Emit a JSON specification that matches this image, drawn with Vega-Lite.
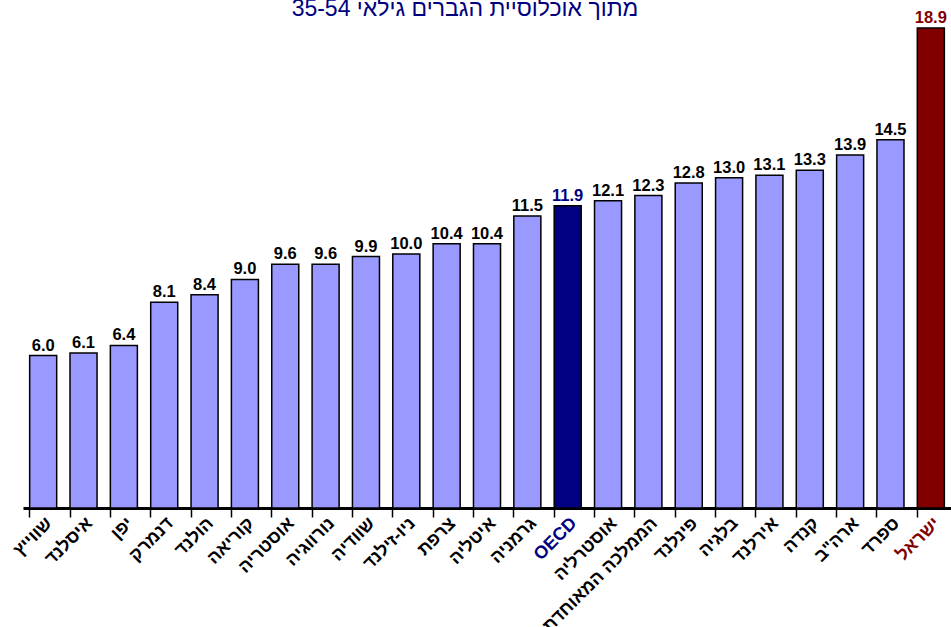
{
  "$schema": "https://vega.github.io/schema/vega-lite/v6.json",
  "width": 928,
  "height": 508,
  "autosize": "none",
  "padding": {"left": 23, "top": 0, "right": 0, "bottom": 119},
  "background": "white",
  "title": {
    "text": "מתוך אוכלוסיית הגברים גילאי 35-54",
    "font": "Liberation Sans",
    "fontSize": 23,
    "fontWeight": "normal",
    "color": "#000080",
    "anchor": "middle",
    "frame": "group",
    "baseline": "alphabetic",
    "offset": 0,
    "dx": -22,
    "dy": 39
  },
  "data": {
    "values": [
      {"country": "שווייץ", "value": 6.0, "kind": "other"},
      {"country": "איסלנד", "value": 6.1, "kind": "other"},
      {"country": "יפן", "value": 6.4, "kind": "other"},
      {"country": "דנמרק", "value": 8.1, "kind": "other"},
      {"country": "הולנד", "value": 8.4, "kind": "other"},
      {"country": "קוריאה", "value": 9.0, "kind": "other"},
      {"country": "אוסטריה", "value": 9.6, "kind": "other"},
      {"country": "נורווגיה", "value": 9.6, "kind": "other"},
      {"country": "שוודיה", "value": 9.9, "kind": "other"},
      {"country": "ניו-זילנד", "value": 10.0, "kind": "other"},
      {"country": "צרפת", "value": 10.4, "kind": "other"},
      {"country": "איטליה", "value": 10.4, "kind": "other"},
      {"country": "גרמניה", "value": 11.5, "kind": "other"},
      {"country": "OECD", "value": 11.9, "kind": "oecd"},
      {"country": "אוסטרליה", "value": 12.1, "kind": "other"},
      {"country": "הממלכה המאוחדת", "value": 12.3, "kind": "other"},
      {"country": "פינלנד", "value": 12.8, "kind": "other"},
      {"country": "בלגיה", "value": 13.0, "kind": "other"},
      {"country": "אירלנד", "value": 13.1, "kind": "other"},
      {"country": "קנדה", "value": 13.3, "kind": "other"},
      {"country": "ארה\"ב", "value": 13.9, "kind": "other"},
      {"country": "ספרד", "value": 14.5, "kind": "other"},
      {"country": "ישראל", "value": 18.9, "kind": "israel"}
    ]
  },
  "layer": [
    {
      "mark": {"type": "bar", "stroke": "#000000", "strokeWidth": 1.5},
      "encoding": {
        "x": {
          "field": "country",
          "type": "nominal",
          "sort": null,
          "scale": {"paddingInner": 0.33, "paddingOuter": 0.165},
          "axis": {
            "title": null,
            "orient": "bottom",
            "bandPosition": 0,
            "labels": false,
            "domain": true,
            "domainColor": "#000000",
            "domainWidth": 3,
            "ticks": true,
            "tickColor": "#000000",
            "tickWidth": 1.5,
            "tickSize": 9,
            "grid": false
          }
        },
        "y": {
          "field": "value",
          "type": "quantitative",
          "scale": {"domain": [0, 20], "nice": false},
          "axis": null
        },
        "color": {
          "condition": [
            {"test": "datum.kind === 'oecd'", "value": "#000080"},
            {"test": "datum.kind === 'israel'", "value": "#800000"}
          ],
          "value": "#9999FF"
        }
      }
    },
    {
      "mark": {"type": "text", "baseline": "bottom", "dy": -2, "font": "Liberation Sans", "fontSize": 16.5, "fontWeight": "bold"},
      "encoding": {
        "x": {"field": "country", "type": "nominal", "sort": null, "axis": null},
        "y": {"field": "value", "type": "quantitative", "axis": null},
        "text": {"field": "value", "type": "quantitative", "format": ".1f"},
        "color": {
          "condition": [
            {"test": "datum.kind === 'oecd'", "value": "#000080"},
            {"test": "datum.kind === 'israel'", "value": "#800000"}
          ],
          "value": "#000000"
        }
      }
    },
    {
      "mark": {"type": "bar", "opacity": 0},
      "encoding": {
        "x": {
          "field": "country",
          "type": "nominal",
          "sort": null,
          "axis": {
            "title": null,
            "orient": "bottom",
            "domain": false,
            "ticks": false,
            "labelAngle": -45,
            "labelAlign": "right",
            "labelBaseline": "top",
            "labelPadding": 6,
            "labelFont": "Liberation Sans",
            "labelFontSize": 18,
            "labelFontWeight": "bold",
            "labelColor": {
              "condition": [
                {"test": "datum.value === 'OECD'", "value": "#000080"},
                {"test": "datum.value === 'ישראל'", "value": "#800000"}
              ],
              "value": "#000000"
            },
            "labelOverlap": false,
            "labelLimit": 300
          }
        },
        "y": {"field": "value", "type": "quantitative", "axis": null}
      }
    }
  ],
  "resolve": {"axis": {"x": "independent"}},
  "config": {"view": {"stroke": null}}
}
